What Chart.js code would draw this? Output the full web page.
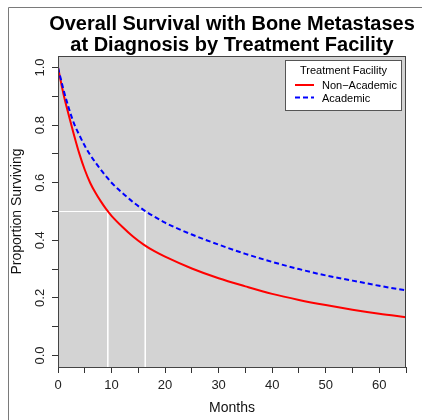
<!DOCTYPE html>
<html>
<head>
<meta charset="utf-8">
<script src="https://cdn.jsdelivr.net/npm/chart.js@4/dist/chart.umd.min.js"></script>
<style>
  html, body { margin: 0; padding: 0; background: #fff; }
  #wrap { width: 422px; height: 420px; }
</style>
</head>
<body>
<div id="wrap"><canvas id="myChart" width="422" height="420"></canvas></div>
<script>
// survival curves
const months = [0, 1, 2, 3, 4, 5, 6, 7, 8, 9, 10, 12, 14, 16, 18, 20, 25, 30, 35, 40, 45, 50, 55, 60, 65];
const nonAcademic = [1.0, 0.91, 0.835, 0.765, 0.70, 0.645, 0.60, 0.565, 0.535, 0.508, 0.485, 0.447, 0.413, 0.385, 0.362, 0.343, 0.302, 0.268, 0.24, 0.214, 0.193, 0.175, 0.159, 0.145, 0.133];
const academic = [1.0, 0.925, 0.86, 0.805, 0.765, 0.728, 0.697, 0.67, 0.645, 0.622, 0.60, 0.565, 0.533, 0.505, 0.482, 0.461, 0.42, 0.385, 0.353, 0.325, 0.30, 0.278, 0.26, 0.242, 0.226];

// median survival (months) for the white guide lines
const medians = [9.3, 16.3];
const medianLevel = 0.5;

const xTicks = [0, 5, 10, 15, 20, 25, 30, 35, 40, 45, 50, 55, 60, 65];
const yTicks = [0, 0.1, 0.2, 0.3, 0.4, 0.5, 0.6, 0.7, 0.8, 0.9, 1.0];

const seriesLabels = ['Non\u2212Academic', 'Academic'];
const legendTitle = 'Treatment Facility';
const titleLines = ['Overall Survival with Bone Metastases', 'at Diagnosis by Treatment Facility'];

const FONT = "'Liberation Sans', Arial, Helvetica, sans-serif";
const yMin = -0.04;

function toPoints(xs, ys) {
    return xs.map((x, i) => ({ x: x, y: ys[i] }));
}

const guideStyle = {
    borderColor: '#ffffff',
    borderWidth: 1,
    pointRadius: 0,
    fill: false,
    tension: 0
};

const bgPlugin = {
    id: 'bg',
    beforeDraw(chart) {
        const ctx = chart.ctx;
        const a = chart.chartArea;
        ctx.save();
        // outer frame
        ctx.strokeStyle = '#7a7a7a';
        ctx.lineWidth = 1;
        ctx.beginPath();
        ctx.moveTo(8.5, 420);
        ctx.lineTo(8.5, 7.5);
        ctx.lineTo(422, 7.5);
        ctx.stroke();
        ctx.fillStyle = '#d3d3d3';
        ctx.fillRect(a.left, a.top, a.right - a.left, a.bottom - a.top);

        // title, centred over the plot region (wider than it, like R does)
        const cx = (a.left + a.right) / 2;
        ctx.fillStyle = '#000';
        ctx.font = 'bold 20px ' + FONT;
        ctx.textAlign = 'center';
        ctx.textBaseline = 'alphabetic';
        ctx.fillText(titleLines[0], cx, 30);
        ctx.fillText(titleLines[1], cx, 51);
        ctx.restore();
    },
    afterDatasetsDraw(chart) {
        const ctx = chart.ctx;
        const a = chart.chartArea;
        ctx.save();
        ctx.strokeStyle = '#444';
        ctx.lineWidth = 1;
        ctx.strokeRect(a.left + 0.5, a.top + 0.5, a.right - a.left - 1, a.bottom - a.top);

        // legend box
        const bx = 285.5, by = 60.5, bw = 116, bh = 50;
        ctx.fillStyle = '#ffffff';
        ctx.fillRect(bx, by, bw, bh);
        ctx.strokeStyle = '#555';
        ctx.strokeRect(bx, by, bw, bh);
        ctx.fillStyle = '#000';
        ctx.font = '11px ' + FONT;
        ctx.textAlign = 'center';
        ctx.textBaseline = 'alphabetic';
        ctx.fillText(legendTitle, bx + bw / 2, 74);
        ctx.textAlign = 'left';
        const rows = [85, 97.5];
        chart.data.datasets.slice(0, 2).forEach((ds, i) => {
            ctx.strokeStyle = ds.borderColor;
            ctx.lineWidth = ds.borderWidth;
            ctx.setLineDash(ds.borderDash || []);
            ctx.beginPath();
            ctx.moveTo(295, rows[i]);
            ctx.lineTo(314, rows[i]);
            ctx.stroke();
            ctx.setLineDash([]);
            ctx.fillText(ds.label, 322, rows[i] + 4);
        });
        ctx.restore();
    }
};

function initChart() {
    const ctx = document.getElementById('myChart').getContext('2d');
    return new Chart(ctx, {
        type: 'line',
        data: {
            datasets: [{
                label: seriesLabels[0],
                data: toPoints(months, nonAcademic),
                borderColor: '#ff0000',
                borderWidth: 2,
                pointRadius: 0,
                cubicInterpolationMode: 'monotone',
                order: 1
            }, {
                label: seriesLabels[1],
                data: toPoints(months, academic),
                borderColor: '#0000ff',
                borderWidth: 2,
                borderDash: [5, 3],
                pointRadius: 0,
                cubicInterpolationMode: 'monotone',
                order: 0
            }, Object.assign({
                label: 'guide-h',
                data: [{ x: 0, y: medianLevel }, { x: medians[1], y: medianLevel }],
                order: 5
            }, guideStyle), Object.assign({
                label: 'guide-v1',
                data: [{ x: medians[0], y: medianLevel }, { x: medians[0], y: yMin }],
                order: 5
            }, guideStyle), Object.assign({
                label: 'guide-v2',
                data: [{ x: medians[1], y: medianLevel }, { x: medians[1], y: yMin }],
                order: 5
            }, guideStyle)]
        },
        options: {
            responsive: false,
            animation: false,
            layout: { padding: { left: 0, right: 16, top: 56, bottom: 0 } },
            plugins: {
                legend: { display: false },
                tooltip: { enabled: false },
                title: { display: false }
            },
            scales: {
                x: {
                    type: 'linear',
                    min: 0,
                    max: 65,
                    afterBuildTicks: (scale) => { scale.ticks = xTicks.map(v => ({ value: v })); },
                    afterFit: (scale) => { scale.height = 53; },
                    ticks: {
                        color: '#222',
                        font: { family: FONT, size: 13 },
                        padding: 5,
                        maxRotation: 0,
                        autoSkip: false,
                        callback: (v) => (v % 10 === 0 ? String(v) : '')
                    },
                    grid: { drawOnChartArea: false, tickLength: 6, color: '#000', tickColor: '#333' },
                    border: { display: true, color: '#333' },
                    title: {
                        display: true,
                        text: 'Months',
                        color: '#111',
                        font: { family: FONT, size: 14 },
                        padding: { top: 0, bottom: 3 }
                    }
                },
                y: {
                    type: 'linear',
                    min: yMin,
                    max: 1.04,
                    afterBuildTicks: (scale) => { scale.ticks = yTicks.map(v => ({ value: v })); },
                    afterFit: (scale) => { scale.width = 58; },
                    ticks: {
                        color: '#222',
                        font: { family: FONT, size: 13 },
                        padding: 3,
                        minRotation: 90,
                        maxRotation: 90,
                        crossAlign: 'center',
                        autoSkip: false,
                        callback: (v) => (Math.round(v * 10) % 2 === 0 ? v.toFixed(1) : '')
                    },
                    grid: { drawOnChartArea: false, tickLength: 6, color: '#000', tickColor: '#333' },
                    border: { display: true, color: '#333' },
                    title: {
                        display: true,
                        text: 'Proportion Surviving',
                        color: '#111',
                        font: { family: FONT, size: 14 },
                        padding: { top: 9, bottom: 0 }
                    }
                }
            }
        },
        plugins: [bgPlugin]
    });
}

initChart();
</script>
</body>
</html>
